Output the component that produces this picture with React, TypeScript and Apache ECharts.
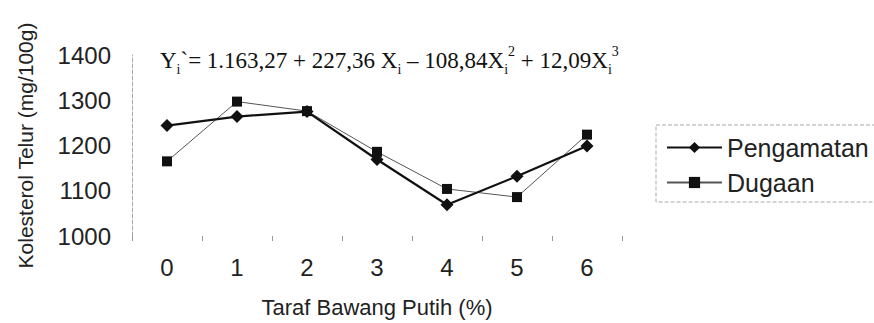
import React, { useEffect, useRef } from "react";
import * as echarts from "echarts";

const categories = ["0", "1", "2", "3", "4", "5", "6"];
const pengamatan = [1244, 1264, 1275, 1169, 1069, 1132, 1199];
const dugaan = [1165, 1297, 1276, 1186, 1104, 1086, 1224];
const yMin = 1000;
const yMax = 1400;
const yStep = 100;
const xTitle = "Taraf Bawang Putih (%)";
const yTitle = "Kolesterol Telur (mg/100g)";
const seriesNames = ["Pengamatan", "Dugaan"];

const SANS = "'Liberation Sans', Arial, sans-serif";
const SERIF = "'Liberation Serif', 'Times New Roman', serif";

export default function App() {
  const ref = useRef<HTMLDivElement>(null);
  useEffect(() => {
    if (!ref.current) return;
    const chart = echarts.init(ref.current, null, { renderer: "svg" });
    const fs = 23;
    const rich: any = {
      n: { fontFamily: SERIF, fontSize: fs, lineHeight: 32, color: "#111", verticalAlign: "middle" },
      sub: { fontFamily: SERIF, fontSize: 14, color: "#111", verticalAlign: "bottom" },
      sup: { fontFamily: SERIF, fontSize: 14, color: "#111", verticalAlign: "top" },
    };
    const eq =
      "{n|Y}{sub|i}{n|`= 1.163,27 + 227,36 X}{sub|i}{n| – 108,84X}{sub|i}{sup|2}{n| + 12,09X}{sub|i}{sup|3}";
    chart.setOption({
      animation: false,
      grid: { left: 132, right: 252, top: 55, bottom: 83 },
      xAxis: {
        type: "category",
        data: categories,
        boundaryGap: true,
        axisLine: { show: false },
        axisTick: { show: true, length: 5, lineStyle: { color: "#999" } },
        axisLabel: { fontSize: 24, color: "#222", margin: 19, fontFamily: SANS },
        name: xTitle,
        nameLocation: "middle",
        nameGap: 60,
        nameTextStyle: { fontSize: 22, color: "#222", fontFamily: SANS },
      },
      yAxis: {
        type: "value",
        min: yMin,
        max: yMax,
        interval: yStep,
        axisLine: { show: true, lineStyle: { color: "#aaa", type: "dashed", width: 1 } },
        axisTick: { show: false },
        splitLine: { show: false },
        axisLabel: {
          fontSize: 24,
          color: "#222",
          margin: 21,
          fontFamily: SANS,
          formatter: (v: number) => String(v),
        },
        name: yTitle,
        nameLocation: "middle",
        nameRotate: 90,
        nameGap: 96,
        nameTextStyle: { fontSize: 21, color: "#222", fontFamily: SANS },
      },
      legend: {
        orient: "vertical",
        left: 656,
        top: 125,
        padding: [10, 10, 7, 10],
        itemGap: 10,
        itemWidth: 55,
        itemHeight: 14,
        borderColor: "#aaa",
        borderWidth: 1,
        borderType: "dashed",
        textStyle: { fontSize: 25, color: "#222", fontFamily: SANS },
        data: seriesNames,
      },
      series: [
        {
          name: seriesNames[0],
          type: "line",
          data: pengamatan,
          symbol: "diamond",
          symbolSize: 13,
          itemStyle: { color: "#111" },
          lineStyle: { color: "#111", width: 2.2 },
          z: 3,
        },
        {
          name: seriesNames[1],
          type: "line",
          data: dugaan,
          symbol: "rect",
          symbolSize: 10,
          itemStyle: { color: "#111" },
          lineStyle: { color: "#555", width: 1 },
          z: 2,
        },
      ],
      graphic: [
        {
          type: "text",
          left: 160,
          top: 44,
          style: { text: eq, rich, fill: "#111" },
        },
      ],
    });
    return () => chart.dispose();
  }, []);
  return (
    <div
      ref={ref}
      style={{ position: "fixed", left: 0, top: 0, width: 874, height: 323, background: "#fff" }}
    />
  );
}
